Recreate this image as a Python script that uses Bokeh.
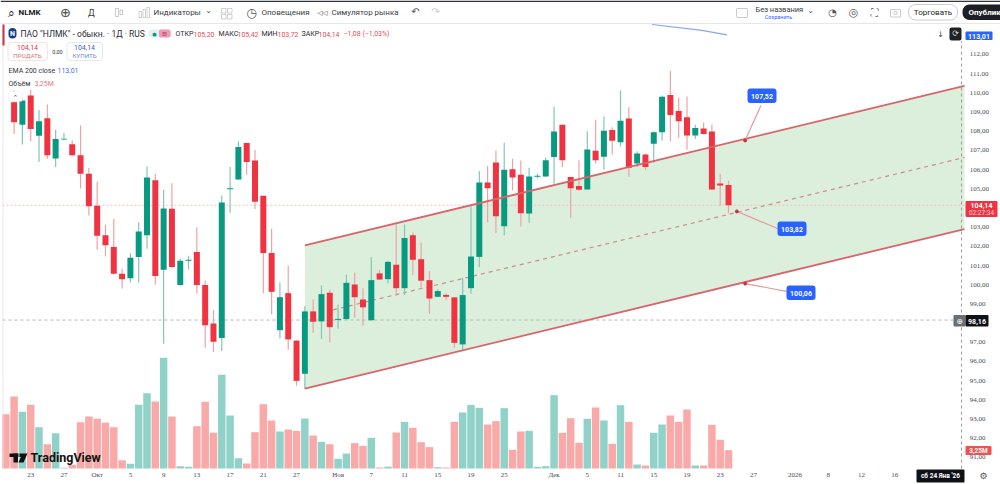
from bokeh.embed import file_html
from bokeh.resources import INLINE
from bokeh.plotting import figure
from bokeh.models import (ColumnDataSource, Range1d, Label,
                          BoxAnnotation, PolyAnnotation)

# ---------- data ----------
open_ = [109.51,108.33,109.86,107.76,108.68,106.58,107.57,107.32,106.75,105.78,104.11,102.58,101.97,100.57,100.34,101.45,102.58,105.45,100.78,103.96,
         99.98,101.25,101.70,99.98,97.98,97.23,104.98,105.48,107.39,106.47,104.63,101.65,97.63,99.56,97.09,95.36,98.61,98.09,99.58,98.17,
         98.21,100.01,99.23,98.15,100.59,100.29,101.04,99.82,102.58,101.33,100.24,99.37,99.47,99.34,96.89,99.82,101.45,105.33,106.37,103.05,
         106.02,105.73,103.71,105.62,105.64,106.65,108.33,105.61,105.14,104.96,106.98,106.67,108.06,107.43,108.66,106.32,106.79,107.34,107.95,109.88,
         109.05,108.73,107.78,108.14,107.99,105.28,105.20]
high = [110.12,109.69,110.16,109.11,109.39,108.07,107.90,107.52,108.30,106.09,105.38,103.12,103.43,100.83,101.64,103.26,106.16,105.78,104.94,105.29,
        101.35,101.51,103.00,100.22,98.69,104.65,106.13,107.48,107.39,107.03,104.63,102.91,100.13,100.99,97.09,98.88,99.23,99.96,99.74,98.95,
        100.53,100.64,99.81,101.45,100.78,101.26,103.14,103.14,102.72,102.20,100.71,99.77,99.56,99.35,100.36,104.08,105.92,106.18,106.99,107.40,
        106.56,106.47,106.09,105.78,106.61,109.27,108.33,105.61,106.48,108.00,108.59,108.77,108.21,110.12,109.25,106.96,106.82,107.99,109.86,111.15,
        109.74,109.81,108.33,108.45,108.35,105.78,105.42]
low = [107.86,107.31,107.48,106.39,106.56,106.13,107.55,106.72,105.00,103.61,101.82,101.47,100.53,99.80,100.12,100.12,101.87,100.00,96.92,100.88,
       99.94,100.81,99.53,96.71,96.49,96.54,103.75,105.47,105.73,103.94,99.56,98.45,97.20,96.61,94.73,94.58,97.48,97.18,96.99,97.70,
       98.19,98.28,97.86,98.14,100.26,100.08,99.42,99.46,100.50,99.84,98.48,99.35,99.21,96.71,96.57,99.53,100.92,103.26,102.69,102.58,
       104.91,103.04,103.23,105.54,105.62,105.26,106.13,103.49,104.91,104.95,106.30,106.01,106.79,107.20,105.61,106.13,105.99,106.34,107.52,107.47,
       107.66,107.03,107.59,107.83,104.95,104.13,103.72]
close = [108.47,109.60,108.12,108.52,106.74,107.59,107.60,106.75,105.78,104.09,102.55,102.06,100.57,100.29,101.40,102.77,105.59,100.45,103.97,100.92,
         101.25,101.30,99.98,97.89,97.03,104.29,105.03,107.17,106.39,104.32,101.65,99.63,99.35,97.15,94.99,98.61,98.07,99.51,97.79,98.22,
         100.10,99.35,98.82,100.24,100.27,101.19,99.82,102.44,101.30,100.21,99.28,99.67,99.37,96.97,99.46,101.47,105.33,105.03,103.57,105.99,
         105.59,103.73,105.64,105.68,106.49,107.99,106.48,105.03,104.95,107.05,106.49,108.02,107.50,108.54,106.09,106.84,106.13,107.95,109.79,108.84,
         108.52,107.78,108.16,107.85,104.96,105.17,104.14]
volume_m = [9.64,12.78,10.06,11.30,7.34,4.32,6.27,0.12,0.65,8.22,9.23,8.82,8.11,7.34,1.48,0.83,11.30,13.37,11.89,19.64,9.23,
            0.41,0.30,7.51,11.83,6.33,16.63,9.41,1.83,0.89,6.45,11.42,8.52,6.57,6.92,6.69,8.88,5.86,4.73,4.32,1.72,
            2.66,4.50,4.02,5.44,0.18,0.35,6.39,8.28,7.22,4.67,3.79,0.24,0.18,8.28,9.94,11.30,10.77,7.81,8.40,10.71,
            3.31,6.57,6.69,0.30,0.41,13.02,6.33,8.93,4.56,8.82,10.83,8.52,4.38,11.24,8.28,0.71,0.53,6.33,7.81,9.41,
            8.28,10.47,0.53,0.53,7.75,5.09,3.25]
vol_up = [False,False,True,False,True,False,True,True,False,False,False,False,False,False,False,True,True,True,False,True,False,
          True,True,False,False,False,True,True,True,False,False,False,False,True,False,False,True,False,True,False,True,
          True,False,False,True,False,True,False,True,False,False,False,True,False,False,True,True,True,False,False,True,
          False,False,True,True,True,True,False,False,False,True,False,True,False,True,False,True,False,True,True,False,
          False,False,True,False,False,False,False]

tick_bars = [2,6,10,14,18,22,26,30,34,39,43,47,51,55,59,65,69,73,77,81,85,89,94,98,102,106]
tick_names = ["23","27","Окт","5","9","13","17","21","27","Ноя","7","11","15","19","25","Дек","5","11","15","19","23","27","2026","8","12","16"]
price_ticks = [91,92,93,94,95,96,97,99,100,101,102,103,105,106,107,108,109,110,111,112]
price_tick_names = [f"{t},00" for t in price_ticks]

channel_bars = [35, 114.4]
channel_upper = [102.05, 110.36]
channel_lower = [94.59, 102.90]
channel_mid_bars = [38.4, 114.4]
channel_mid = [98.69, 106.63]

ema_bars = [76.8, 82.8, 85.8]
ema_vals = [113.56, 113.25, 113.02]

last_price = 104.14
level_price = 98.16
scale_bar = 114.05
pane_left_bar = -1.4
pane_right_bar = 114.4
pane_top_price = 112.7
pane_bottom_price = 90.42
date_label_price = 90.06
price_label_bar = 115.05

callout_bars = [88, 87, 88]
callout_prices = [107.52, 103.82, 100.06]
leader_bars = [89.9, 91.9, 93.0]
leader_prices = [109.34, 102.93, 99.65]
callout_text = ["107,52", "103,82", "100,06"]

# ---------- styles ----------
F = "Roboto"
RED, GREEN = "#ef3340", "#089981"
RED_W, GREEN_W = "#eda3a6", "#82c6b8"
RED_V, GREEN_V = "#f8a9a8", "#90d1c8"
LINE = "#d9646b"
BLUE = "#2962ff"
INK = "#3a3d45"
W, H = 1000, 484

xs = list(range(len(close)))
up = [c >= o for o, c in zip(open_, close)]
src = ColumnDataSource(dict(
    x=xs, top=[max(o, c) for o, c in zip(open_, close)], bot=[min(o, c) for o, c in zip(open_, close)],
    high=high, low=low,
    fill=[GREEN if u else RED for u in up],
    wick=[GREEN_W if u else RED_W for u in up],
))
vsrc = ColumnDataSource(dict(x=[i - 1 for i in range(len(volume_m))], v=volume_m,
                             c=[GREEN_V if u else RED_V for u in vol_up]))

p = figure(width=W, height=H, output_backend="svg", toolbar_location=None,
           x_range=Range1d(-1.637, 118.74), y_range=Range1d(89.59, 114.81),
           x_axis_location=None, y_axis_location=None,
           min_border_left=0, min_border_right=0, min_border_top=0, min_border_bottom=0)
p.outline_line_color = None
p.grid.visible = False
p.background_fill_color = "white"
p.extra_y_ranges = {"vol": Range1d(-2.84, 83.08)}

# axis labels, placed through the scales
p.text(x=tick_bars, y=[date_label_price] * len(tick_bars), text=tick_names,
       text_font=F, text_font_size="7px", text_color="#4a4d55", text_align="center", text_baseline="middle")
p.text(x=[price_label_bar] * len(price_ticks), y=price_ticks, text=price_tick_names,
       text_font=F, text_font_size="7px", text_color="#4a4d55", text_align="left", text_baseline="middle")

# volume
p.vbar(x="x", top="v", bottom=0, width=0.9, source=vsrc, fill_color="c", line_color=None, y_range_name="vol")

# channel and pane lines
p.varea(x=channel_bars, y1=channel_lower, y2=channel_upper, fill_color="#dcefdc")
p.line([pane_left_bar, pane_right_bar], [last_price, last_price], line_color="#efc4bd", line_width=1, line_dash=[2, 2])
p.line([pane_left_bar, pane_right_bar], [level_price, level_price], line_color="#b4b4b4", line_width=1, line_dash=[3, 3])
p.line([scale_bar, scale_bar], [pane_bottom_price, pane_top_price], line_color="#9a9a9a", line_width=1, line_dash=[3, 3])
p.line(channel_mid_bars, channel_mid, line_color="#cc8d88", line_width=1.2, line_dash=[4, 4])
p.line(ema_bars, ema_vals, line_color="#8aa4ee", line_width=1.2)

# candles
p.segment(x0="x", x1="x", y0="low", y1="high", source=src, line_color="wick", line_width=1.2)
p.vbar(x="x", top="top", bottom="bot", width=0.72, source=src, fill_color="fill", line_color=None)

p.line(channel_bars, channel_upper, line_color=LINE, line_width=1.8)
p.line(channel_bars, channel_lower, line_color=LINE, line_width=1.8)

# callout leaders
p.segment(x0=callout_bars, y0=callout_prices, x1=leader_bars, y1=leader_prices, line_color="#e59a9d", line_width=1.2)
p.scatter(callout_bars, callout_prices, size=3, color="#c9323c")


def T(text, x, y, size=8, color=INK, align="left", style="normal", font=F):
    p.add_layout(Label(x=x, y=y, x_units="canvas", y_units="canvas", text=text,
                       text_font=font, text_font_size=f"{size}px", text_color=color,
                       text_align=align, text_baseline="middle", text_font_style=style, level="overlay"))


def B(x0, y0, x1, y1, fill="white", line=None, radius=0, lw=1):
    p.add_layout(BoxAnnotation(left=x0, right=x1, top=y0, bottom=y1,
                               left_units="canvas", right_units="canvas", top_units="canvas", bottom_units="canvas",
                               fill_color=fill, fill_alpha=1, line_color=line, line_width=lw,
                               border_radius=int(radius), level="overlay"))


# pane edge
B(2, 23, 3, 468, fill="#e8e8ea")
B(2, 24, 4, 45, fill="#c8323c")

# callouts
for t, (x0, y0) in zip(callout_text, [(747, 88), (777, 221), (786, 285)]):
    B(x0, y0, x0 + 29, y0 + 14.5, fill=BLUE, radius=3)
    T(t, x0 + 14.5, y0 + 7.5, size=7, color="white", align="center", style="bold")

# top toolbar
B(0, 0, 1000, 1.5, fill="#33363d")
B(0, 22.5, 1000, 23.5, fill="#e6e7ea")
T("⌕", 7, 12, size=12, color="#222", font="DejaVu Sans")
T("NLMK", 18, 12, size=8, color="#17191f", style="bold")
T("⊕", 65, 12, size=13, color="#444", align="center", font="DejaVu Sans")
T("Д", 91, 12, size=9, color="#444", align="center")
B(115, 8, 118, 16, fill="white", line="#555")
B(119.5, 9.5, 122, 14, fill="white", line="#555")
B(138.5, 11, 141, 17, fill="white", line="#666")
B(142.5, 9, 145, 17, fill="white", line="#666")
B(146.5, 7, 149, 17, fill="white", line="#666")
T("Индикаторы", 153, 12, size=8)
T("⌄", 208, 10, size=8, color="#555", align="center", font="DejaVu Sans")
for bx, by in [(221, 8), (227, 8), (221, 14), (227, 14)]:
    B(bx, by, bx + 4.5, by + 4.5, fill="white", line="#666")
T("◷", 251, 12, size=12, color="#555", align="center", font="DejaVu Sans")
T("Оповещения", 261, 12, size=8)
T("◁◁", 322, 12, size=6.5, color="#444", align="center", font="DejaVu Sans")
T("Симулятор рынка", 331, 12, size=8)
T("↶", 415, 11, size=10, color="#555", align="center", font="DejaVu Sans")
T("↷", 435, 11, size=10, color="#ccc", align="center", font="DejaVu Sans")
B(736, 8, 747, 17, fill="white", line="#555", radius=1)
T("Без названия", 755, 9, size=7.5)
T("Сохранить", 778, 16, size=5.5, color=BLUE, align="center")
T("⌄", 810, 10, size=8, color="#555", align="center", font="DejaVu Sans")
T("◔", 832, 12, size=10, color="#555", align="center", font="DejaVu Sans")
T("◎", 853, 12, size=11, color="#555", align="center", font="DejaVu Sans")
T("⛶", 874, 12, size=10, color="#555", align="center", font="DejaVu Sans")
B(890, 9, 900, 16.5, fill="white", line="#555", radius=1)
B(893.5, 11, 896.5, 14, fill="white", line="#555", radius=1)
B(908, 4, 957, 19.5, fill="white", line="#555", radius=7)
T("Торговать", 932.5, 12, size=8, color="#222", align="center")
B(962, 4, 1012, 19.5, fill="#1d1f25", radius=7)
T("Опублик", 968, 12, size=8, color="white", style="bold")

# legend block
B(8, 27.5, 16, 38, fill="#123f8c", radius=5)
T("N", 12, 33, size=7, color="white", align="center", style="bold")
T("ПАО \"НЛМК\" - обыкн. · 1Д · RUS", 20, 33, size=8.5, color="#2a2d35")
B(148, 29, 171, 37, fill="#dff1ed", radius=4)
B(158.5, 29, 170, 37, fill="#f29ab5", radius=2)
T("●", 154, 33, size=5, color=GREEN, align="center", font="DejaVu Sans")
T("≡", 164, 33, size=7, color="#a33a5c", align="center", font="DejaVu Sans")
for lab, x in [("ОТКР", 175), ("МАКС", 218), ("МИН", 261), ("ЗАКР", 301)]:
    T(lab, x, 33.5, size=7, color="#2a2d35")
for val, x in [("105,20", 193), ("105,42", 237), ("103,72", 277), ("104,14", 318), ("−1,08 (−1,03%)", 343)]:
    T(val, x, 33.5, size=7, color="#e0505a")

B(7.5, 42, 47, 60, fill="white", line="#ee9ca2", radius=3)
T("104,14", 27, 47, size=7, color="#d8404c", align="center")
T("ПРОДАТЬ", 27, 55, size=6.2, color="#e0707a", align="center")
T("0,00", 57, 51, size=5.5, color="#333", align="center")
B(66.5, 42, 102, 60, fill="white", line="#9db4ee", radius=3)
T("104,14", 84, 47, size=7, color="#3b62cc", align="center")
T("КУПИТЬ", 84, 55, size=6.2, color="#6f8ddc", align="center")
T("EMA 200 close", 8, 70, size=7, color="#33363d")
T("113,01", 57, 70, size=7, color="#4a6fd8")
T("Объём", 8, 83, size=7, color="#33363d")
T("3,25M", 34, 83, size=7, color="#e07a80")
B(8, 91, 22, 101, fill="white", line="#dddddd", radius=2)
T("⌃", 15, 97, size=7, color="#555", align="center", font="DejaVu Sans")

# logo
B(9, 453, 18, 456.5, fill="#111")
B(13, 453, 17.5, 462, fill="#111")
B(19, 453, 22, 456.5, fill="#111")
p.add_layout(PolyAnnotation(xs=[22, 27, 23, 18], ys=[453, 453, 462, 462],
                            xs_units="canvas", ys_units="canvas",
                            fill_color="#111", fill_alpha=1, line_color=None, level="overlay"))
T("TradingView", 30, 457, size=12.5, color="#111", style="bold")

# right tags
T("↓", 940, 34, size=8, color="#444", align="center", font="DejaVu Sans")
B(949, 27, 961, 40, fill="#1f2127", radius=2)
T("⟳", 955, 33, size=8, color="#ddd", align="center", font="DejaVu Sans")
B(965, 31, 992, 39.5, fill=BLUE, radius=1)
T("113,01", 978.5, 35.5, size=7, color="white", align="center", style="bold")
B(965, 200.5, 997, 216.5, fill="#ef3340", radius=1)
T("104,14", 981, 205, size=7, color="white", align="center", style="bold")
T("02:27:34", 981, 212.5, size=6.5, color="#ffd5d8", align="center")
B(953, 314.5, 965, 326, fill="#6b6e75", radius=1)
T("⊕", 959, 320.5, size=8, color="white", align="center", font="DejaVu Sans")
B(965, 314.5, 988, 326, fill="#0f1117", radius=1)
T("98,16", 976.5, 320.5, size=7, color="white", align="center", style="bold")
B(965, 445.5, 991, 454.5, fill="#ef5350", radius=1)
T("3,25M", 978, 450, size=6.5, color="white", align="center", style="bold")

# bottom
B(916, 469, 964, 482, fill="#0f1117", radius=1)
T("сб 24 Янв '26", 940, 475.5, size=6.5, color="white", align="center", style="bold")
T("⚙", 983, 475.5, size=9, color="#555", align="center", font="DejaVu Sans")

open("out.html", "w").write(file_html(p, INLINE))
